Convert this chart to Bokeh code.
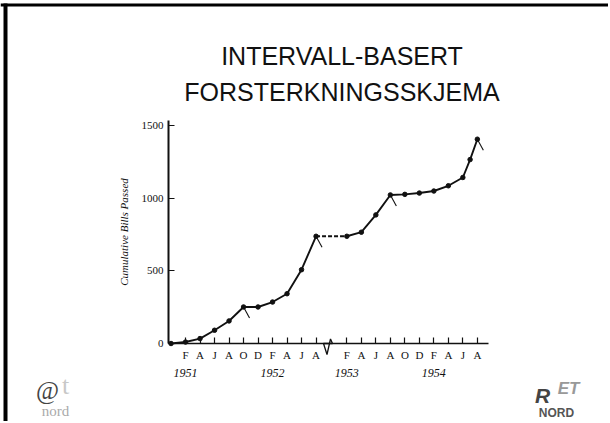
from bokeh.plotting import figure
from bokeh.models import (Range1d, FixedTicker, Label, BoxAnnotation, PolyAnnotation,
                          ColumnDataSource)
from bokeh.embed import file_html
from bokeh.resources import INLINE

# ---------------- data ----------------
# first Congress (1951-1952): month and cumulative bills passed
session1_months = ["1950-12", "1951-02", "1951-04", "1951-06", "1951-08", "1951-10",
                   "1951-12", "1952-02", "1952-04", "1952-06", "1952-08"]
session1_bills = [0, 10, 34, 91, 155, 251, 251, 285, 342, 507, 737]

# second Congress (1953-1954)
session2_months = ["1953-02", "1953-04", "1953-06", "1953-08", "1953-10", "1953-12",
                   "1954-02", "1954-04", "1954-06", "1954-07", "1954-08"]
session2_bills = [737, 765, 884, 1021, 1025, 1034, 1048, 1084, 1141, 1264, 1404]

# end-of-session marks
session_end_months = ["1951-10", "1952-08", "1953-08", "1954-08"]
session_end_bills = [251, 737, 1021, 1404]

# x axis ticks
tick_months = ["1951-02", "1951-04", "1951-06", "1951-08", "1951-10", "1951-12",
               "1952-02", "1952-04", "1952-06", "1952-08",
               "1953-02", "1953-04", "1953-06", "1953-08", "1953-10", "1953-12",
               "1954-02", "1954-04", "1954-06", "1954-08"]
tick_letters = ["F", "A", "J", "A", "O", "D", "F", "A", "J", "A",
                "F", "A", "J", "A", "O", "D", "F", "A", "J", "A"]
year_labels = ["1951", "1952", "1953", "1954"]
year_label_months = ["1951-02", "1952-02", "1953-02", "1954-02"]

y_ticks = [0, 500, 1000, 1500]

title_lines = ["INTERVALL-BASERT", "FORSTERKNINGSSKJEMA"]

# ---------------- scale helpers ----------------
BREAK_GAP = 1.75  # months removed by the axis break between 1952 and 1953


def month_pos(s):
    yr, mo = s.split("-")
    m = (int(yr) - 1951) * 12 + (int(mo) - 1)
    if int(yr) >= 1953:
        m -= BREAK_GAP
    return m


W, H = 608, 421
PX_PER_MONTH = 7.25
PX_PER_UNIT = 0.1455
ORIGIN_PX, ORIGIN_PY = 168, 343      # where the axes meet on the page
X0 = -1.35                           # month position of the y axis
X_AXIS_END = X0 + 320 / PX_PER_MONTH
Y_AXIS_END = 223 / PX_PER_UNIT


def sx(page_x):
    return X0 + (page_x - ORIGIN_PX) / PX_PER_MONTH


def sy(page_y):
    return (ORIGIN_PY - page_y) / PX_PER_UNIT


p = figure(width=W, height=H, x_range=Range1d(sx(0), sx(W)), y_range=Range1d(sy(H), sy(0)),
           output_backend="svg", toolbar_location=None,
           min_border=0, min_border_left=0, min_border_right=0,
           min_border_top=0, min_border_bottom=0)
p.grid.visible = False
p.outline_line_color = None
p.background_fill_color = "white"
p.border_fill_color = "white"

serif = "Liberation Serif"

# x axis
tick_x = [month_pos(m) for m in tick_months]
xa = p.xaxis[0]
xa.fixed_location = 0
xa.bounds = (X0, X_AXIS_END)
xa.ticker = FixedTicker(ticks=tick_x)
xa.major_label_overrides = {t: l for t, l in zip(tick_x, tick_letters)}
xa.major_tick_in = 6
xa.major_tick_out = 0
xa.minor_tick_line_color = None
xa.major_tick_line_color = "#111"
xa.major_tick_line_width = 1.2
xa.axis_line_color = "#111"
xa.axis_line_width = 1.5
xa.major_label_text_font = serif
xa.major_label_text_font_size = "11px"
xa.major_label_text_color = "#111"
xa.major_label_standoff = 5

# y axis
ya = p.yaxis[0]
ya.fixed_location = X0
ya.bounds = (0, Y_AXIS_END)
ya.ticker = FixedTicker(ticks=y_ticks)
ya.major_tick_in = 6
ya.major_tick_out = 0
ya.minor_tick_line_color = None
ya.major_tick_line_color = "#111"
ya.major_tick_line_width = 1.2
ya.axis_line_color = "#111"
ya.axis_line_width = 2
ya.major_label_text_font = serif
ya.major_label_text_font_size = "11px"
ya.major_label_text_color = "#111"
ya.major_label_standoff = 5
ya.axis_label = "Cumulative Bills Passed"
ya.axis_label_text_font = serif
ya.axis_label_text_font_style = "italic"
ya.axis_label_text_font_size = "11px"
ya.axis_label_text_color = "#111"
ya.axis_label_standoff = 9

# data lines
s1 = ColumnDataSource(dict(x=[month_pos(m) for m in session1_months], y=session1_bills))
s2 = ColumnDataSource(dict(x=[month_pos(m) for m in session2_months], y=session2_bills))
for src in (s1, s2):
    p.line("x", "y", source=src, line_color="#111", line_width=1.9)
    p.scatter("x", "y", source=src, size=4.5, color="#111")

# dashed bridge between the two Congresses
p.line([month_pos(session1_months[-1]), month_pos(session2_months[0])],
       [session1_bills[-1], session2_bills[0]],
       line_color="#111", line_width=2, line_dash="4 2")

# session-end slashes
SLASH_DX, SLASH_DY = 6 / PX_PER_MONTH, -11 / PX_PER_UNIT
ex = [month_pos(m) for m in session_end_months]
p.segment(x0=ex, y0=session_end_bills,
          x1=[v + SLASH_DX for v in ex], y1=[v + SLASH_DY for v in session_end_bills],
          line_color="#111", line_width=1.1)

# axis break zig-zag
p.add_layout(PolyAnnotation(xs=[sx(323), sx(326.5), sx(330), sx(332)],
                            ys=[sy(343), sy(354), sy(338.5), sy(343)],
                            fill_alpha=0, line_color="#111", line_alpha=1, line_width=1.3))

# year labels
for yl, ym in zip(year_labels, year_label_months):
    p.add_layout(Label(x=month_pos(ym), y=sy(372), text=yl, text_align="center",
                       text_baseline="middle", text_font=serif, text_font_style="italic",
                       text_font_size="12px", text_color="#111"))

# title
for line, py in zip(title_lines, [55, 91]):
    p.add_layout(Label(x=sx(341.5), y=sy(py), text=line, text_align="center",
                       text_baseline="middle", text_font="Liberation Sans",
                       text_font_size="25px", text_color="#111"))

# slide border (top and left)
p.add_layout(BoxAnnotation(left=sx(0), right=sx(W), top=sy(3), bottom=sy(6),
                           fill_color="black", fill_alpha=1, line_color=None))
p.add_layout(BoxAnnotation(left=sx(3), right=sx(7), top=sy(3), bottom=sy(H),
                           fill_color="black", fill_alpha=1, line_color=None))

# logos (approximate)
p.add_layout(Label(x=sx(47), y=sy(390), text="@", text_align="center", text_baseline="middle",
                   text_font=serif, text_font_size="25px", text_color="#444"))
p.add_layout(Label(x=sx(65), y=sy(385), text="t", text_align="center", text_baseline="middle",
                   text_font=serif, text_font_size="26px", text_color="#c8c8c8"))
p.add_layout(Label(x=sx(55), y=sy(402), text="nord", text_align="center", text_baseline="top",
                   text_font=serif, text_font_size="15px", text_color="#aaa"))
p.add_layout(Label(x=sx(542), y=sy(395), text="R", text_align="center", text_baseline="middle",
                   text_font="Liberation Sans", text_font_style="bold italic",
                   text_font_size="21px", text_color="#444"))
p.add_layout(Label(x=sx(568), y=sy(388), text="ET", text_align="center", text_baseline="middle",
                   text_font="Liberation Sans", text_font_style="bold italic",
                   text_font_size="17px", text_color="#999"))
p.add_layout(Label(x=sx(556), y=sy(412), text="NORD", text_align="center", text_baseline="middle",
                   text_font="Liberation Sans", text_font_style="bold",
                   text_font_size="12px", text_color="#555"))

open("out.html", "w").write(file_html(p, INLINE))
